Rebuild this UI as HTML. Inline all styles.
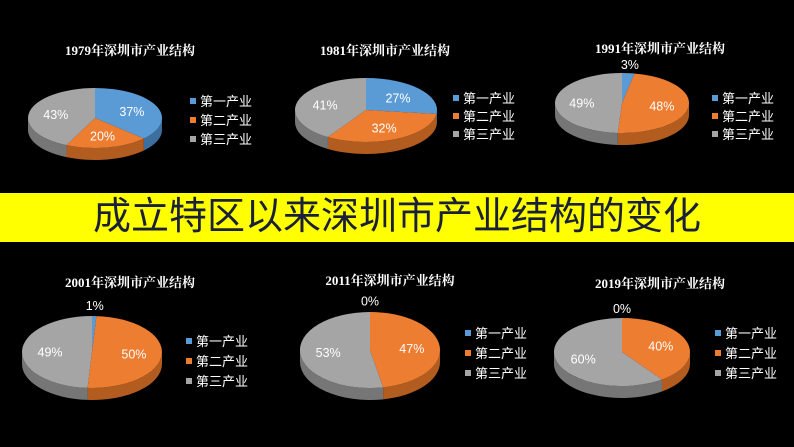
<!DOCTYPE html>
<html><head><meta charset="utf-8"><style>
body{margin:0;background:#000;}
#wrap{position:relative;width:794px;height:447px;overflow:hidden;background:#000;font-family:"Liberation Sans","Noto Sans CJK SC",sans-serif;}
#banner{position:absolute;left:0;top:193px;width:794px;height:49px;background:#ffff00;color:#1a1f3a;font-size:38px;line-height:49px;text-align:center;font-family:"Liberation Sans","Noto Sans CJK SC",sans-serif;}
</style></head><body>
<div id="wrap">
<svg id="svg" width="794" height="447" style="position:absolute;left:0;top:0"></svg>
<div id="banner">成立特区以来深圳市产业结构的变化</div>
</div>
<script>
const years = ["1979","1981","1991","2001","2011","2019"];
const primaryShare = [37,27,3,1,0,0];
const secondaryShare = [20,32,48,50,47,40];
const tertiaryShare = [43,41,49,49,53,60];
const seriesNames = ["第一产业","第二产业","第三产业"];
const colors = ["#5b9bd5","#ed7d31","#a5a5a5"];
const sideColors = ["#3d6f9e","#b35c20","#767676"];
const layout = [
 {cx:95,cy:118,rx:67,ry:30,d:12,tx:130,ty:55,lx:190,ly:101,lg:19},
 {cx:366,cy:110,rx:71,ry:32,d:12,tx:385,ty:55,lx:453,ly:98,lg:18},
 {cx:622,cy:103,rx:67,ry:30,d:12,tx:660,ty:53,lx:712,ly:98,lg:18},
 {cx:92,cy:352,rx:70,ry:36,d:12,tx:130,ty:287,lx:186,ly:341,lg:20},
 {cx:370,cy:350,rx:70,ry:38,d:12,tx:390,ty:285,lx:465,ly:333,lg:20},
 {cx:622,cy:352,rx:68,ry:34,d:12,tx:660,ty:288,lx:715,ly:333,lg:20}
];
const svg=document.getElementById('svg');
const NS="http://www.w3.org/2000/svg";
function mk(t,a){const e=document.createElementNS(NS,t);for(const k in a)e.setAttribute(k,a[k]);svg.appendChild(e);return e;}
function pt(L,t,dy){return [L.cx+L.rx*Math.cos(t),L.cy+L.ry*Math.sin(t)+(dy||0)];}
years.forEach((yr,i)=>{
 const L=layout[i];
 const vals=[primaryShare[i],secondaryShare[i],tertiaryShare[i]];
 const tot=vals.reduce((a,b)=>a+b,0);
 let a=-Math.PI/2;const sl=[];
 vals.forEach((v,k)=>{const b=a+v/tot*2*Math.PI;sl.push([a,b,k,v]);a=b;});
 sl.forEach(([s,e,k])=>{
  [[0,Math.PI],[2*Math.PI,3*Math.PI]].forEach(([f0,f1])=>{
   const s2=Math.max(s,f0),e2=Math.min(e,f1);
   if(e2<=s2)return;
   const p1=pt(L,s2),p2=pt(L,e2),p3=pt(L,e2,L.d),p4=pt(L,s2,L.d);
   const el=mk('path',{d:`M${p1}A${L.rx},${L.ry} 0 0 1 ${p2}L${p3}A${L.rx},${L.ry} 0 0 0 ${p4}Z`,fill:sideColors[k]});
   
   
  });
 });
 sl.forEach(([s,e,k,v])=>{
  if(e-s<=0)return;
  const p1=pt(L,s),p2=pt(L,e),large=(e-s)>Math.PI?1:0;
  const el=mk('path',{d:`M${L.cx},${L.cy}L${p1}A${L.rx},${L.ry} 0 ${large} 1 ${p2}Z`,fill:colors[k]});
  
  
 });
 sl.forEach(([s,e,k,v])=>{
  const m=(s+e)/2;const r=v<5?1.25:0.6;
  const x=L.cx+L.rx*r*Math.cos(m),y=L.cy+L.ry*(v<5?1.3:r)*Math.sin(m)+5;
  const t=mk('text',{x:x,y:y,fill:'#fff','font-size':12.5,'text-anchor':'middle','font-family':'Liberation Sans, Noto Sans CJK SC, sans-serif'});
  t.textContent=v+'%';
  
  
 });
 const tt=mk('text',{x:L.tx,y:L.ty,fill:'#fff','font-size':13,'font-weight':'bold','text-anchor':'middle','font-family':'Liberation Serif, Noto Serif CJK SC, serif'});
 tt.textContent=yr+'年深圳市产业结构';
 
 
 seriesNames.forEach((n,k)=>{
  const y=L.ly+k*L.lg;
  const r=mk('rect',{x:L.lx,y:y-3,width:6,height:6,fill:colors[k]});
  
  
  const t=mk('text',{x:L.lx+10,y:y+5,fill:'#fff','font-size':13,'font-family':'Liberation Sans, Noto Sans CJK SC, sans-serif'});
  t.textContent=n;
  
  
 });
});
</script>
</body></html>
